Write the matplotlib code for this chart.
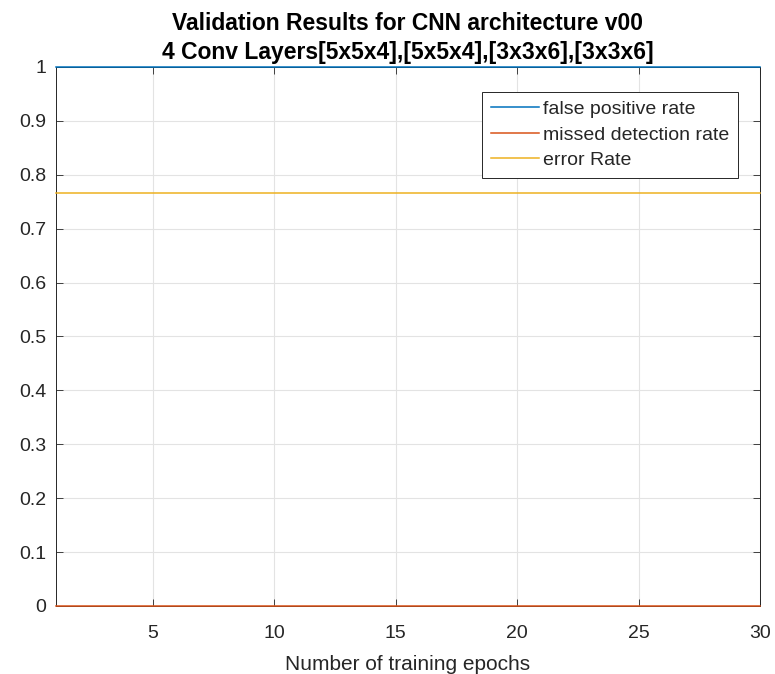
import matplotlib
matplotlib.use("Agg")
import matplotlib.pyplot as plt
import numpy as np

# Validation metrics per training epoch
epochs = list(range(1, 31))
false_positive_rate = [1.0] * 30
missed_detection_rate = [0.0] * 30
error_rate = [0.767] * 30

series_labels = ["false positive rate", "missed detection rate", "error Rate"]
x_ticks = [5, 10, 15, 20, 25, 30]
y_ticks = [0, 0.1, 0.2, 0.3, 0.4, 0.5, 0.6, 0.7, 0.8, 0.9, 1]
y_tick_labels = ["0", "0.1", "0.2", "0.3", "0.4", "0.5", "0.6", "0.7", "0.8", "0.9", "1"]

plt.rcParams["font.family"] = ["Liberation Sans", "DejaVu Sans"]
axis_color = "#262626"

fig = plt.figure(figsize=(7.75, 6.74), dpi=100)
ax = fig.add_axes([0.0723, 0.1009, 0.9083, 0.7997])

colors = ["#0072BD", "#D95319", "#EDB120"]
for vals, lab, c in zip([false_positive_rate, missed_detection_rate, error_rate],
                        series_labels, colors):
    ax.plot(epochs, vals, color=c, linewidth=1.1, label=lab, clip_on=False, zorder=3)

ax.set_xlim(1, 30)
ax.set_ylim(0, 1)
ax.set_xticks(x_ticks)
ax.set_yticks(y_ticks)
ax.set_yticklabels(y_tick_labels)

ax.grid(True, color="#E3E3E3", linewidth=0.8)
ax.set_axisbelow(True)
ax.tick_params(direction="in", length=5, width=0.6, colors=axis_color,
               labelsize=14, top=True, right=True)
ax.tick_params(axis="y", pad=7)
ax.tick_params(axis="x", pad=14)
for s in ax.spines.values():
    s.set_color(axis_color)
    s.set_linewidth(0.7)

ax.set_xlabel("Number of training epochs", fontsize=15, color=axis_color, labelpad=9)
ax.set_title("Validation Results for CNN architecture v00\n"
             "4 Conv Layers[5x5x4],[5x5x4],[3x3x6],[3x3x6]",
             fontsize=16.5, fontweight="bold", color="black", pad=6, linespacing=1.3)

leg = ax.legend(loc="upper right", bbox_to_anchor=(0.969, 0.954), borderaxespad=0,
                fontsize=14, fancybox=False, framealpha=1, edgecolor=axis_color,
                handlelength=2.5, handletextpad=0.2, labelspacing=0.4,
                borderpad=0.45)
leg.get_frame().set_linewidth(0.7)
for t in leg.get_texts():
    t.set_color(axis_color)

fig.savefig("out.png", dpi=100)
